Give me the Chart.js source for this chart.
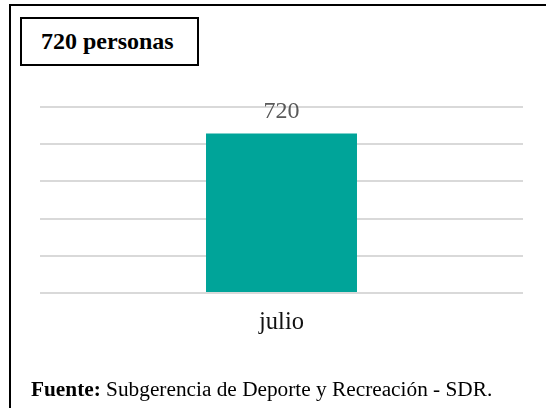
<!DOCTYPE html>
<html>
<head>
<meta charset="utf-8">
<script src="https://cdn.jsdelivr.net/npm/chart.js@4.4.0/dist/chart.umd.min.js"></script>
<style>
    html, body { margin: 0; padding: 0; background: #fff; }
    body { width: 546px; height: 408px; position: relative; overflow: hidden; font-family: "Liberation Serif", "Times New Roman", serif; }
    #frame { position: absolute; left: 9px; top: 4px; width: 620px; height: 520px; border: 2px solid #000; box-sizing: border-box; }
    #titleBox { position: absolute; left: 20px; top: 17px; width: 179px; height: 49px; border: 2px solid #000; box-sizing: border-box; background: #fff; }
    #titleText { position: absolute; left: 19px; top: 9px; font-size: 24px; font-weight: bold; color: #000; line-height: 26px; white-space: nowrap; }
    #chartWrap { position: absolute; left: 0; top: 0; width: 546px; height: 408px; }
    #footer { position: absolute; left: 31px; top: 377px; font-size: 21.3px; line-height: 24px; color: #000; white-space: nowrap; }
</style>
</head>
<body>
<div id="frame"></div>
<div id="chartWrap"><canvas id="barChart" width="546" height="408"></canvas></div>
<div id="titleBox"><div id="titleText">720 personas</div></div>
<div id="footer"><b>Fuente:</b> Subgerencia de Deporte y Recreación - SDR.</div>
<script>
// Data
const MONTHS = ['julio'];
const PERSONAS = [720];
const Y_MAX = 840;
const Y_STEP = 168;

// draws the value above each bar
const barLabels = {
    id: 'barLabels',
    afterDatasetsDraw(chart) {
        const ctx = chart.ctx;
        const meta = chart.getDatasetMeta(0);
        ctx.save();
        ctx.font = '24px "Liberation Serif", serif';
        ctx.fillStyle = '#595959';
        ctx.textAlign = 'center';
        ctx.textBaseline = 'alphabetic';
        meta.data.forEach((bar, i) => {
            ctx.fillText(String(PERSONAS[i]), bar.x, bar.y - 16);
        });
        ctx.restore();
    }
};

function init() {
    const ctx = document.getElementById('barChart').getContext('2d');
    new Chart(ctx, {
        type: 'bar',
        data: {
            labels: MONTHS,
            datasets: [{ data: PERSONAS, backgroundColor: '#00a499', borderWidth: 0, categoryPercentage: 1, barPercentage: 0.3126 }]
        },
        options: {
            responsive: false,
            animation: false,
            layout: { padding: { left: 40, right: 23, top: 107, bottom: 65 } },
            plugins: { legend: { display: false }, tooltip: { enabled: false } },
            scales: {
                x: {
                    grid: { display: false },
                    border: { display: false },
                    ticks: { color: '#111', font: { family: '"Liberation Serif", serif', size: 24.5 }, padding: 7 },
                    afterFit: s => { s.height = 50; }
                },
                y: {
                    min: 0, max: Y_MAX,
                    ticks: { display: false, stepSize: Y_STEP },
                    grid: { color: '#d9d9d9', lineWidth: 2, drawTicks: false },
                    border: { display: false },
                    afterFit: s => { s.width = 0; }
                }
            }
        },
        plugins: [barLabels]
    });
}

window.onload = init;
</script>
</body>
</html>
